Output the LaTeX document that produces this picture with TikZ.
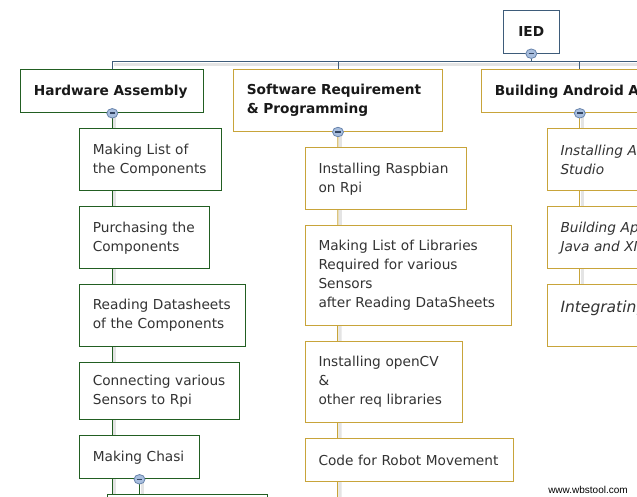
\documentclass[tikz,border=0pt]{standalone}
\usepackage{fontspec}
\setmainfont{DejaVu Sans}
\newfontfamily\wmfont{Liberation Sans}
\usetikzlibrary{shapes.geometric,backgrounds}
\definecolor{hwgreen}{RGB}{34,94,34}
\definecolor{swgold}{RGB}{200,164,58}
\definecolor{busblue}{RGB}{62,92,122}
\definecolor{togfill}{RGB}{168,190,222}
\definecolor{togedge}{RGB}{104,132,172}
\definecolor{togbar}{RGB}{52,70,100}
\definecolor{txt}{RGB}{51,51,51}
\definecolor{shade}{RGB}{228,228,228}
\newcommand\boxfont{\fontsize{13.7}{19}\selectfont}
\tikzset{
  box/.style={draw, fill=white, line width=1pt, anchor=north west,
    inner xsep=13pt, inner ysep=0pt, align=left, text=txt,
    font=\boxfont},
  hwbox/.style={box, draw=hwgreen},
  swbox/.style={box, draw=swgold},
  title/.style={font=\bfseries\boxfont, text=black!90},
  andbox/.style={swbox, font=\itshape\boxfont},
  tog/.style={ellipse, draw=togedge, fill=togfill, line width=0.8pt,
    minimum width=11pt, minimum height=9.5pt, inner sep=0pt,
    path picture={\draw[togbar, line width=1.6pt]
      (path picture bounding box.center) ++(-2.7,0) -- ++(5.4,0);}},
  bus/.style={draw=busblue, line width=1pt},
  hwline/.style={draw=hwgreen, line width=1pt},
  swline/.style={draw=swgold, line width=1pt},
  shadow/.style={draw=shade, line width=3pt}
}
\begin{document}
\begin{tikzpicture}[x=1pt,y=-1pt]
\useasboundingbox (0,0) rectangle (637,497);
\clip (0,0) rectangle (637,497);

% root
\node[draw=busblue, fill=white, line width=1pt, minimum width=56pt,
  minimum height=43pt, inner sep=0pt, title] (ied) at (531.3,31.7) {IED};

% first level
\node[hwbox, title, minimum width=183pt, text width=157pt, minimum height=43pt]
  (ha) at (20.3,69.3) {Hardware Assembly};
\node[swbox, title, minimum width=208.4pt, text width=182.4pt, minimum height=61.7pt]
  (sr) at (233.3,69.3) {Software Requirement\\\& Programming};
\node[swbox, title, minimum width=196pt, text width=170pt, minimum height=43pt]
  (ba) at (481.3,69.3) {Building Android App};

% hardware tasks
\node[hwbox, minimum width=142pt, text width=116pt, minimum height=62pt]
  (hw1) at (79.3,128.3) {Making List of\\the Components};
\node[hwbox, minimum width=130pt, text width=104pt, minimum height=62pt]
  (hw2) at (79.3,206.3) {Purchasing the\\Components};
\node[hwbox, minimum width=165.4pt, text width=139.4pt, minimum height=61.7pt]
  (hw3) at (79.3,284.3) {Reading Datasheets\\of the Components};
\node[hwbox, minimum width=159.4pt, text width=133.4pt, minimum height=57pt]
  (hw4) at (79.3,362.3) {Connecting various\\Sensors to Rpi};
\node[hwbox, minimum width=119.4pt, text width=93.4pt, minimum height=43pt]
  (hw5) at (79.3,435.3) {Making Chasi};
\node[hwbox, minimum width=159.4pt, text width=133.4pt, minimum height=40pt]
  (hw6) at (107.3,494.3) {};

% software tasks
\node[swbox, minimum width=160.7pt, text width=134.7pt, minimum height=62pt]
  (sw1) at (305,147.3) {Installing Raspbian\\on Rpi};
\node[swbox, minimum width=206.3pt, text width=180.3pt, minimum height=99.7pt]
  (sw2) at (305,225.3) {Making List of Libraries\\Required for various\\Sensors\\after Reading DataSheets};
\node[swbox, minimum width=156.7pt, text width=130.7pt, minimum height=80.7pt]
  (sw3) at (305,341.3) {Installing openCV\\\&\\other req libraries};
\node[swbox, minimum width=208.3pt, text width=182.3pt, minimum height=43pt]
  (sw4) at (305,438.3) {Code for Robot Movement};

% android tasks
\node[andbox, minimum width=200pt, text width=174pt, minimum height=62pt]
  (ba1) at (547,128.3) {Installing Android\\Studio};
\node[andbox, minimum width=200pt, text width=174pt, minimum height=62pt]
  (ba2) at (547,206.3) {Building App using\\Java and XML};
\node[andbox, font=\itshape\fontsize{15.5}{18}\selectfont, minimum width=200pt,
  text width=174pt, minimum height=61.7pt]
  (ba3) at (547,284.3) {Integrating\\~};

% end point of the open software spine
\coordinate (swend) at (337.5,500);

% collapse toggles
\node[tog] (iedt) at (ied.south) {};
\node[tog] (hat) at (ha.south) {};
\node[tog] (srt) at (sr.south) {};
\node[tog] (bat) at (ba.south) {};
\node[tog] (hw5t) at (hw5.south) {};

\node[font=\wmfont\fontsize{10}{12}\selectfont, text=black] (wm) at (588,489.5) {www.wbstool.com};

\begin{scope}[on background layer]
  % soft shadows beside the connectors
  \path[shadow] (ha.north |- 0,64.2) ++(1.5,0) -- (640,64.2);
  \path[shadow] ([xshift=2.5pt]hat.center) -- ([xshift=2.5pt]hw6.north -| hat);
  \path[shadow] ([xshift=2.5pt]srt.center) -- ([xshift=2.5pt]swend);
  \path[shadow] ([xshift=2.5pt]bat.center) -- ([xshift=2.5pt]ba3.north -| bat);
  \path[shadow] ([xshift=2.5pt]hw5t.center) -- ([xshift=2.5pt]hw6.north -| hw5t);

  % root bus
  \draw[bus] (iedt) -- (ied.south |- 0,61.7);
  \draw[bus] (ha.north) -- (ha.north |- 0,61.7) -- (640,61.7);
  \draw[bus] (sr.north) -- (sr.north |- 0,61.7);
  \draw[bus] (ba.north) -- (ba.north |- 0,61.7);

  % spines
  \draw[hwline] (hat) -- (hw6.north -| hat);
  \draw[hwline] (hw5t) -- (hw6.north -| hw5t);
  \draw[swline] (srt) -- (swend);
  \draw[swline] (bat) -- (ba3.north -| bat);
\end{scope}
\end{tikzpicture}
\end{document}
